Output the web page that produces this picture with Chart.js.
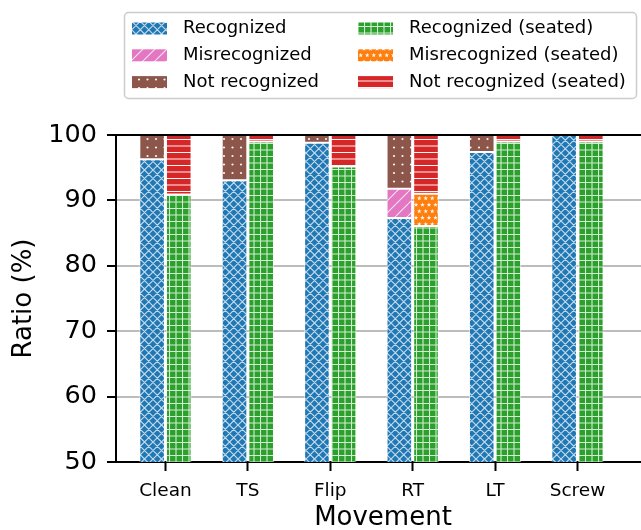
<!DOCTYPE html>
<html>
<head>
<meta charset="utf-8">
<script src="https://cdn.jsdelivr.net/npm/chart.js@4.4.1/dist/chart.umd.min.js"></script>
<style>
  html, body { margin: 0; padding: 0; background: #fff; overflow: hidden; width: 641px; height: 530px; }
  canvas { display: block; }
</style>
</head>
<body>
<canvas id="chart" width="660" height="531"></canvas>
<script>
// Movement categories and recognition ratios (%) per condition
const movements = ['Clean', 'TS', 'Flip', 'RT', 'LT', 'Screw'];
const recognized          = [96.3, 93.1, 98.8, 87.3, 97.4, 100.0];
const misrecognized       = [0, 0, 0, 4.5, 0, 0];
const notRecognized       = [3.7, 6.9, 1.2, 8.2, 2.6, 0];
const recognizedSeated    = [90.9, 99.0, 95.2, 86.1, 99.0, 99.0];
const misrecognizedSeated = [0, 0, 0, 4.9, 0, 0];
const notRecognizedSeated = [9.1, 1.0, 4.8, 9.0, 1.0, 1.0];
const ratioTicks = [50, 60, 70, 80, 90, 100];

const FONT = '"DejaVu Sans", "Liberation Sans", sans-serif';

// ---- hatch fills ----
function makePattern(size, base, draw) {
  const tile = document.createElement('canvas');
  tile.width = size; tile.height = size;
  const g = tile.getContext('2d');
  g.fillStyle = base;
  g.fillRect(0, 0, size, size);
  draw(g, size);
  return g.createPattern(tile, 'repeat');
}
function star(g, cx, cy, R, r) {
  g.beginPath();
  for (let k = 0; k < 10; k++) {
    const a = -Math.PI / 2 + k * Math.PI / 5;
    const rad = k % 2 ? r : R;
    const px = cx + rad * Math.cos(a), py = cy + rad * Math.sin(a);
    k ? g.lineTo(px, py) : g.moveTo(px, py);
  }
  g.closePath();
  g.fill();
}

const crossHatch = makePattern(17, '#1f77b4', (g, s) => {
  g.strokeStyle = 'rgba(255,255,255,0.72)';
  g.lineWidth = 1.2;
  g.beginPath();
  for (let c = -s; c <= 2 * s; c += s / 2) {
    g.moveTo(c, 0); g.lineTo(c + s, s);
    g.moveTo(c, s); g.lineTo(c + s, 0);
  }
  g.stroke();
});
const slashHatch = makePattern(12, '#e377c2', (g, s) => {
  g.strokeStyle = 'rgba(255,255,255,0.8)';
  g.lineWidth = 1.1;
  g.beginPath();
  for (let c = -s; c <= s; c += s) { g.moveTo(c, s); g.lineTo(c + s, 0); }
  g.stroke();
});
const dotHatch = makePattern(17, '#8c564b', (g) => {
  g.fillStyle = 'rgba(255,255,255,0.95)';
  for (const x of [3, 11.5]) for (const y of [3, 11.5]) {
    g.beginPath(); g.arc(x, y, 1.1, 0, Math.PI * 2); g.fill();
  }
});
const gridHatch = makePattern(13, '#2ca02c', (g, s) => {
  g.strokeStyle = 'rgba(255,255,255,0.8)';
  g.lineWidth = 1.1;
  g.beginPath();
  for (const p of [0.5, 7]) {
    g.moveTo(p, 0); g.lineTo(p, s);
    g.moveTo(0, p); g.lineTo(s, p);
  }
  g.stroke();
});
const starHatch = makePattern(13, '#ff7f0e', (g) => {
  g.fillStyle = 'rgba(255,255,255,0.95)';
  for (const [x, y] of [[3.25, 3.25], [9.75, 3.25], [0, 9.75], [6.5, 9.75], [13, 9.75]]) star(g, x, y, 2.4, 1.0);
});
const lineHatch = makePattern(13, '#d62728', (g, s) => {
  g.strokeStyle = 'rgba(255,255,255,0.95)';
  g.lineWidth = 1.2;
  g.beginPath();
  for (const y of [3, 9.5]) { g.moveTo(0, y); g.lineTo(s, y); }
  g.stroke();
});

const toPoints = (vals) => vals.map((v, i) => ({ x: i, y: v }));

const datasets = [
  { label: 'Recognized',              data: toPoints(recognized),          stack: 'standing', backgroundColor: crossHatch },
  { label: 'Misrecognized',           data: toPoints(misrecognized),       stack: 'standing', backgroundColor: slashHatch },
  { label: 'Not recognized',          data: toPoints(notRecognized),       stack: 'standing', backgroundColor: dotHatch },
  { label: 'Recognized (seated)',     data: toPoints(recognizedSeated),    stack: 'seated',   backgroundColor: gridHatch },
  { label: 'Misrecognized (seated)',  data: toPoints(misrecognizedSeated), stack: 'seated',   backgroundColor: starHatch },
  { label: 'Not recognized (seated)', data: toPoints(notRecognizedSeated), stack: 'seated',   backgroundColor: lineHatch }
];

// Two-column framed legend above the axes
const columnLegend = {
  id: 'columnLegend',
  afterDraw(chart) {
    const ctx = chart.ctx;
    ctx.save();
    ctx.beginPath();
    ctx.roundRect(124.5, 12.5, 512, 86, 4);
    ctx.fillStyle = 'rgba(255,255,255,0.85)';
    ctx.fill();
    ctx.strokeStyle = '#cccccc';
    ctx.lineWidth = 1.5;
    ctx.stroke();
    ctx.font = '18px ' + FONT;
    ctx.textBaseline = 'middle';
    chart.data.datasets.forEach((ds, i) => {
      const col = Math.floor(i / 3), row = i % 3;
      const sx = col ? 358 : 132;
      const cy = 28.5 + row * 26.8;
      ctx.fillStyle = ds.backgroundColor;
      ctx.fillRect(sx, cy - 6, 35, 12);
      ctx.fillStyle = '#000';
      ctx.fillText(ds.label, sx + 51, cy);
    });
    ctx.restore();
  }
};

// Top spine of the axes frame
const frameTop = {
  id: 'frameTop',
  afterDraw(chart) {
    const { ctx, chartArea: a } = chart;
    ctx.save();
    ctx.strokeStyle = '#000';
    ctx.lineWidth = 2;
    ctx.beginPath();
    ctx.moveTo(a.left - 1, a.top);
    ctx.lineTo(a.right + 1, a.top);
    ctx.stroke();
    ctx.restore();
  }
};

new Chart(document.getElementById('chart'), {
  type: 'bar',
  data: { datasets },
  plugins: [columnLegend, frameTop],
  options: {
    responsive: false,
    animation: false,
    devicePixelRatio: 1,
    layout: { padding: { top: 135, right: 10, bottom: 0, left: 0 } },
    datasets: {
      bar: {
        categoryPercentage: 0.647,
        barPercentage: 0.96,
        borderWidth: 1,
        borderColor: 'rgba(255,255,255,0.55)',
        borderSkipped: false
      }
    },
    plugins: { legend: { display: false }, tooltip: { enabled: false } },
    scales: {
      x: {
        type: 'linear',
        stacked: true,
        min: -0.6,
        max: 5.88,
        offset: false,
        afterBuildTicks: (scale) => { scale.ticks = movements.map((_, i) => ({ value: i })); },
        afterFit: (scale) => { scale.height = 69; },
        ticks: {
          callback: (v) => movements[v] ?? '',
          font: { family: FONT, size: 18.5 },
          color: '#000',
          padding: 9.5,
          maxRotation: 0,
          autoSkip: false,
          includeBounds: false
        },
        grid: { display: true, offset: false, drawOnChartArea: false, drawTicks: true, tickLength: 9, tickColor: '#000', tickWidth: 2 },
        border: { display: true, color: '#000', width: 2 },
        title: { display: true, text: 'Movement', color: '#000', font: { family: FONT, size: 26, lineHeight: 1 }, padding: 0 }
      },
      y: {
        stacked: true,
        min: 50,
        max: 100,
        z: 1,
        afterBuildTicks: (scale) => { scale.ticks = ratioTicks.map(v => ({ value: v })); },
        afterFit: (scale) => { scale.width = 116; },
        ticks: { font: { family: FONT, size: 25.5 }, color: '#000', padding: 10 },
        grid: { color: 'rgba(176,176,176,0.85)', lineWidth: 2, tickColor: '#000', tickWidth: 2, tickLength: 9 },
        border: { display: true, color: '#000', width: 2 },
        title: { display: true, text: 'Ratio (%)', color: '#000', font: { family: FONT, size: 26, lineHeight: 1 }, padding: { top: 11, bottom: 0 } }
      }
    }
  }
});
</script>
</body>
</html>
